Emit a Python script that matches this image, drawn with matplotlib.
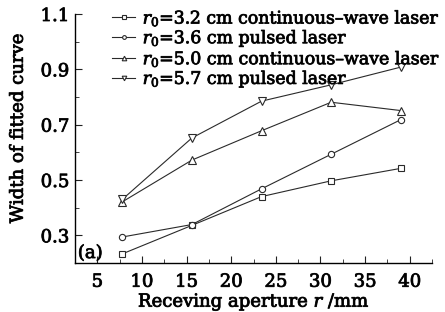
import matplotlib as mpl
mpl.use('Agg')
import matplotlib.pyplot as plt
import matplotlib.patheffects as pe
from matplotlib.ticker import MultipleLocator

# aperture positions (mm)
r = [7.8, 15.6, 23.4, 31.2, 39.0]

# width of fitted curve for each case
cw_32 = [0.233, 0.336, 0.440, 0.497, 0.542]
pulsed_36 = [0.294, 0.339, 0.468, 0.593, 0.718]
cw_50 = [0.421, 0.572, 0.678, 0.781, 0.751]
pulsed_57 = [0.430, 0.652, 0.785, 0.844, 0.908]

labels = [r'$r_0$=3.2 cm continuous–wave laser',
          r'$r_0$=3.6 cm pulsed laser',
          r'$r_0$=5.0 cm continuous–wave laser',
          r'$r_0$=5.7 cm pulsed laser']
markers = ['s', 'o', '^', 'v']

plt.rcParams['font.family'] = ['DejaVu Serif']
plt.rcParams['mathtext.fontset'] = 'dejavuserif'

fig = plt.figure(figsize=(4.45, 3.12), dpi=100)
ax = fig.add_axes([75/445, 1-263/312, 357/445, 249/312])

c = '#2a2a2a'
for ys, m, lab in zip([cw_32, pulsed_36, cw_50, pulsed_57], markers, labels):
    ax.plot(r, ys, color=c, lw=0.8, marker=m, ms=4.5 if m in 'so' else 5.5,
            mfc='white', mec=c, mew=0.8, label=lab)

ax.set_xlim(2.5, 42.5)
ax.set_ylim(0.2, 1.1)
ax.xaxis.set_major_locator(MultipleLocator(5))
ax.xaxis.set_minor_locator(MultipleLocator(2.5))
ax.set_yticks([0.3, 0.5, 0.7, 0.9, 1.1])
ax.yaxis.set_minor_locator(MultipleLocator(0.1))
ax.tick_params(which='both', direction='in', labelsize=13, color='#222222')
ax.tick_params(which='major', length=5, pad=4)
ax.tick_params(axis='x', which='major', pad=7)
ax.tick_params(which='minor', length=3)
for s in ['top', 'right']:
    ax.spines[s].set_visible(False)
for s in ['left', 'bottom']:
    ax.spines[s].set_linewidth(1.0)

bold = [pe.withStroke(linewidth=0.6, foreground='#111111')]

ax.set_xlabel(r'Receving aperture $r$ /mm', fontsize=13, labelpad=0)
ax.set_ylabel('Width of fitted curve', fontsize=13)
ax.yaxis.set_label_coords(-0.135, 0.54)
ax.text(0.008, 0.02, '(a)', transform=ax.transAxes, fontsize=13,
        path_effects=bold)

leg = ax.legend(loc='upper left', bbox_to_anchor=(0.085, 1.05), frameon=False,
                fontsize=12.5, handlelength=1.3, handletextpad=0.45,
                labelspacing=0.0, borderaxespad=0, markerscale=0.6)
for t in leg.get_texts():
    t.set_path_effects(bold)
for t in ax.get_xticklabels() + ax.get_yticklabels():
    t.set_path_effects(bold)
ax.xaxis.label.set_path_effects(bold)
ax.yaxis.label.set_path_effects(bold)

fig.savefig('out.png', dpi=100)
